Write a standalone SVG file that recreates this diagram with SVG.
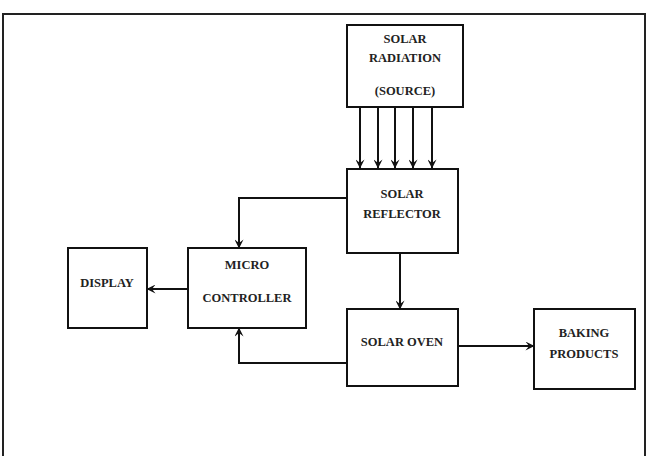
<svg xmlns="http://www.w3.org/2000/svg" width="648" height="456" viewBox="0 0 648 456">
<style>
.box{fill:#fff;stroke:#111;stroke-width:2}
.t{font-family:"Liberation Serif","Times New Roman",serif;font-weight:bold;font-size:12.5px;fill:#222;text-anchor:middle}
.c{fill:none;stroke:#111;stroke-width:2}
</style>
<defs>
<marker id="ah" viewBox="0 0 10 10" refX="9.5" refY="5" markerWidth="9" markerHeight="9" orient="auto" markerUnits="userSpaceOnUse">
<path d="M0,0 L10,5 L0,10 L4,5 Z" fill="#111"/>
</marker>
</defs>
<rect x="0" y="0" width="648" height="456" fill="#fff"/>
<path d="M3,460 V14 H645 V460" fill="none" stroke="#222" stroke-width="2"/>
<g id="connectors">
<line class="c" x1="360" y1="107" x2="360" y2="168" marker-end="url(#ah)"/>
<line class="c" x1="378" y1="107" x2="378" y2="168" marker-end="url(#ah)"/>
<line class="c" x1="395" y1="107" x2="395" y2="168" marker-end="url(#ah)"/>
<line class="c" x1="413" y1="107" x2="413" y2="168" marker-end="url(#ah)"/>
<line class="c" x1="432" y1="107" x2="432" y2="168" marker-end="url(#ah)"/>
<polyline class="c" points="347,198 239,198 239,248" marker-end="url(#ah)"/>
<polyline class="c" points="347,363 239,363 239,328" marker-end="url(#ah)"/>
<line class="c" x1="188" y1="289" x2="147" y2="289" marker-end="url(#ah)"/>
<line class="c" x1="400" y1="253" x2="400" y2="309" marker-end="url(#ah)"/>
<line class="c" x1="458" y1="346" x2="534" y2="346" marker-end="url(#ah)"/>
</g>
<g id="solar-radiation">
<rect class="box" x="347" y="25" width="116" height="82"/>
<text class="t" x="405" y="43">SOLAR</text>
<text class="t" x="405" y="62">RADIATION</text>
<text class="t" x="405" y="95">(SOURCE)</text>
</g>
<g id="solar-reflector">
<rect class="box" x="347" y="169" width="111" height="84"/>
<text class="t" x="402" y="198">SOLAR</text>
<text class="t" x="402" y="218">REFLECTOR</text>
</g>
<g id="display">
<rect class="box" x="68" y="248" width="79" height="80"/>
<text class="t" x="107" y="287">DISPLAY</text>
</g>
<g id="micro-controller">
<rect class="box" x="188" y="248" width="118" height="80"/>
<text class="t" x="247" y="269">MICRO</text>
<text class="t" x="247" y="302">CONTROLLER</text>
</g>
<g id="solar-oven">
<rect class="box" x="347" y="309" width="111" height="77"/>
<text class="t" x="402" y="346">SOLAR OVEN</text>
</g>
<g id="baking-products">
<rect class="box" x="534" y="309" width="101" height="80"/>
<text class="t" x="584" y="337">BAKING</text>
<text class="t" x="584" y="358">PRODUCTS</text>
</g>
</svg>
